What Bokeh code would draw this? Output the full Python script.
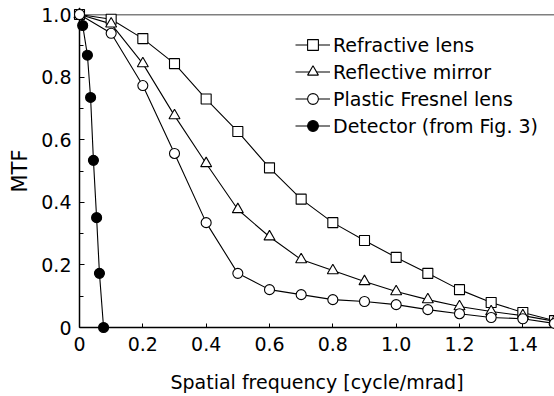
from bokeh.plotting import figure
from bokeh.models import Range1d, FixedTicker, Legend, LegendItem, Span
from bokeh.embed import file_html
from bokeh.resources import INLINE

# ---- data ----
freq = [0.0, 0.1, 0.2, 0.3, 0.4, 0.5, 0.6, 0.7, 0.8, 0.9, 1.0, 1.1, 1.2, 1.3, 1.4, 1.5]
refractive = [1.0, 0.985, 0.923, 0.843, 0.73, 0.626, 0.51, 0.41, 0.335, 0.278, 0.224, 0.173, 0.121, 0.08, 0.048, 0.022]
reflective = [1.0, 0.97, 0.843, 0.677, 0.524, 0.377, 0.29, 0.217, 0.182, 0.147, 0.115, 0.089, 0.067, 0.051, 0.038, 0.02]
fresnel = [1.0, 0.94, 0.773, 0.556, 0.335, 0.173, 0.121, 0.105, 0.089, 0.083, 0.073, 0.057, 0.044, 0.032, 0.028, 0.013]
detector_x = [0.0, 0.01, 0.025, 0.035, 0.044, 0.054, 0.063, 0.076]
detector_y = [1.0, 0.965, 0.87, 0.735, 0.534, 0.351, 0.173, 0.0]

series_names = ["Refractive lens", "Reflective mirror", "Plastic Fresnel lens", "Detector (from Fig. 3)"]
x_ticks = [0, 0.2, 0.4, 0.6, 0.8, 1.0, 1.2, 1.4]
x_tick_labels = ["0", "0.2", "0.4", "0.6", "0.8", "1.0", "1.2", "1.4"]
y_ticks = [0, 0.2, 0.4, 0.6, 0.8, 1.0]
y_tick_labels = ["0", "0.2", "0.4", "0.6", "0.8", "1.0"]
y_minor = [0.1, 0.3, 0.5, 0.7, 0.9]

FONT = "DejaVu Sans"

p = figure(width=554, height=396, output_backend="svg", toolbar_location=None,
           x_range=Range1d(0, 1.5), y_range=Range1d(0, 1.0),
           min_border_left=79, min_border_right=0, min_border_top=14, min_border_bottom=69)
p.outline_line_color = None
p.xgrid.visible = False
p.ygrid.visible = False
p.background_fill_color = "white"
p.border_fill_color = "white"

series = [
    (freq, refractive, "square", "white"),
    (freq, reflective, "triangle", "white"),
    (freq, fresnel, "circle", "white"),
    (detector_x, detector_y, "circle", "black"),
]
# draw the detector first so the open markers sit on top at (0, 1)
draw_order = [3, 0, 1, 2]
renderers = {}
for i in draw_order:
    xs, ys, marker, fill = series[i]
    ln = p.line(xs, ys, line_color="black", line_width=1.1)
    sz = 10 if marker != "triangle" else 11
    sc = p.scatter(xs, ys, marker=marker, size=sz, fill_color=fill, line_color="black",
                   line_width=1.1, level="overlay")
    renderers[i] = [ln, sc]

items = [LegendItem(label=series_names[i], renderers=renderers[i]) for i in range(4)]
legend = Legend(items=items, location=(216, 188), padding=0, margin=0, spacing=0,
                glyph_width=35, glyph_height=27, label_height=27, label_standoff=3,
                label_text_font=FONT, label_text_font_size="19px", label_text_color="black",
                border_line_color=None, background_fill_alpha=0)
p.add_layout(legend)

p.add_layout(Span(location=1.0, dimension="width", line_color="black", line_width=1.5))

# x axis
xa = p.xaxis[0]
xa.ticker = FixedTicker(ticks=x_ticks)
xa.major_label_overrides = dict(zip(x_ticks, x_tick_labels))
xa.major_tick_in = 4
xa.major_tick_out = 0
xa.minor_tick_line_color = None
xa.axis_line_width = 1.5
xa.axis_line_color = "black"
xa.major_tick_line_color = "black"
xa.major_label_standoff = 9
xa.major_label_text_font = FONT
xa.major_label_text_font_size = "19px"
xa.major_label_text_color = "black"
xa.axis_label = "Spatial frequency [cycle/mrad]"
xa.axis_label_text_font = FONT
xa.axis_label_text_font_size = "19px"
xa.axis_label_text_font_style = "normal"
xa.axis_label_text_color = "black"
xa.axis_label_standoff = 17

# y axis
ya = p.yaxis[0]
ya.ticker = FixedTicker(ticks=y_ticks, minor_ticks=y_minor)
ya.major_label_overrides = dict(zip(y_ticks, y_tick_labels))
ya.major_tick_in = 5
ya.major_tick_out = 0
ya.minor_tick_in = 4
ya.minor_tick_out = 0
ya.axis_line_width = 1.5
ya.axis_line_color = "black"
ya.major_tick_line_color = "black"
ya.minor_tick_line_color = "black"
ya.major_label_standoff = 8
ya.major_label_text_font = FONT
ya.major_label_text_font_size = "19px"
ya.major_label_text_color = "black"
ya.axis_label = "MTF"
ya.axis_label_text_font = FONT
ya.axis_label_text_font_size = "21px"
ya.axis_label_text_font_style = "normal"
ya.axis_label_text_color = "black"
ya.axis_label_standoff = 6

open("out.html", "w").write(file_html(p, INLINE))
